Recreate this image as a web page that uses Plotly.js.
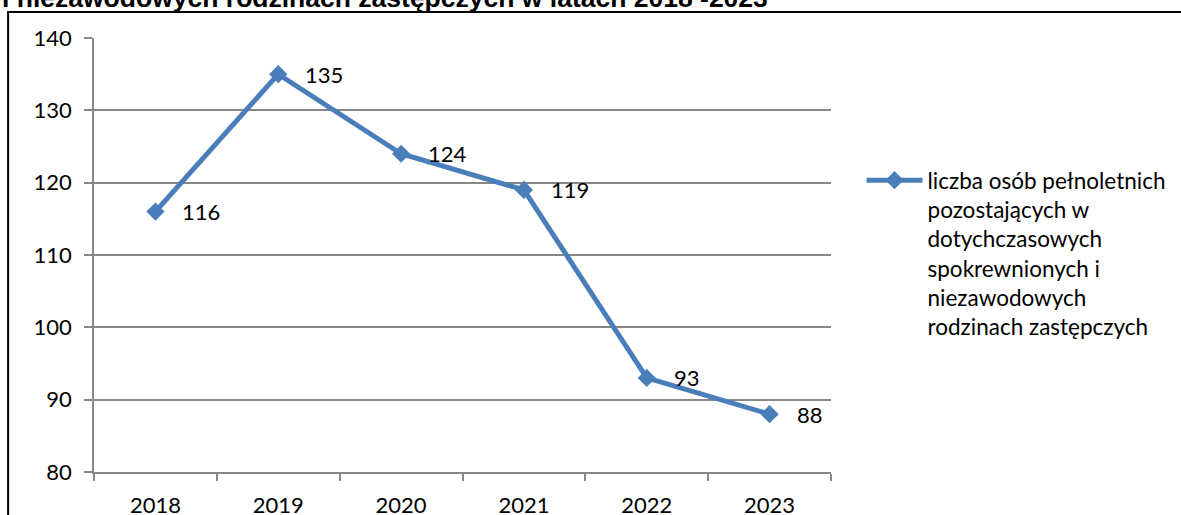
<!DOCTYPE html>
<html><head><meta charset="utf-8">
<script src="https://cdn.plot.ly/plotly-3.0.1.min.js"></script>
<style>html,body{margin:0;padding:0;background:#fff}#chart{width:1181px;height:515px}</style>
</head><body><div id="chart"></div>
<script>
const years = ['2018', '2019', '2020', '2021', '2022', '2023'];
const values = [116, 135, 124, 119, 93, 88];
const yTickValues = [80, 90, 100, 110, 120, 130, 140];
const seriesName = 'liczba osób pełnoletnich<br>pozostających w<br>dotychczasowych<br>spokrewnionych i<br>niezawodowych<br>rodzinach zastępczych';
const titleText = 'i niezawodowych rodzinach zastępczych w latach 2018 -2023';

const blue = '#4a7ebb';
const grey = '#878787';
const font = 'Lato, "Open Sans", sans-serif';

const trace = {
  x: years, y: values, type: 'scatter', mode: 'lines+markers',
  name: seriesName,
  line: {color: blue, width: 5},
  marker: {symbol: 'diamond', size: 14, color: blue},
  hoverinfo: 'x+y'
};

const labelAnns = years.map((yr, i) => ({
  x: i, y: values[i], xref: 'x', yref: 'y', text: String(values[i]),
  showarrow: false, xanchor: 'left', yanchor: 'middle', xshift: 25,
  font: {family: font, size: 22, color: '#000'}
}));

const layout = {
  width: 1181, height: 515,
  margin: {l: 94, r: 349, t: 38, b: 43},
  paper_bgcolor: '#fff', plot_bgcolor: '#fff',
  font: {family: font, size: 22, color: '#000'},
  showlegend: true,
  legend: {x: 1.04, xanchor: 'left', y: 0.721, yanchor: 'top', valign: 'top',
    itemwidth: 56, font: {family: font, size: 22.5, color: '#000'}, bgcolor: 'rgba(0,0,0,0)'},
  xaxis: {type: 'category', range: [-0.5, 5.5], tickson: 'boundaries',
    ticks: 'outside', ticklen: 7, tickwidth: 1.5, tickcolor: grey,
    showline: true, linecolor: grey, linewidth: 1.5, showgrid: false, zeroline: false,
    ticklabelstandoff: 13,
    tickfont: {family: font, size: 22, color: '#000'}, fixedrange: true},
  yaxis: {range: [80, 140], tickvals: yTickValues, ticktext: yTickValues.map(String),
    ticks: 'outside', ticklen: 8, tickwidth: 1.5, tickcolor: grey,
    showline: true, linecolor: grey, linewidth: 1.5,
    showgrid: true, gridcolor: grey, gridwidth: 1.5, zeroline: false,
    ticklabelstandoff: 8,
    tickfont: {family: font, size: 22, color: '#000'}, fixedrange: true},
  shapes: [{type: 'rect', xref: 'paper', yref: 'paper',
    x0: (8 - 94) / 738, x1: 1.8, y0: -0.5, y1: (472 - 12) / 434,
    line: {color: '#000', width: 2}, fillcolor: 'rgba(0,0,0,0)', layer: 'above'}],
  annotations: labelAnns.concat([{
    xref: 'paper', yref: 'paper', x: -94 / 738, y: (472 + 2.3) / 434,
    xanchor: 'left', yanchor: 'middle', showarrow: false, text: '<b>' + titleText + '</b>',
    font: {family: '"Liberation Sans", Arial, sans-serif', size: 26.5, color: '#000'}
  }])
};

Plotly.newPlot('chart', [trace], layout, {displayModeBar: false});
</script></body></html>
